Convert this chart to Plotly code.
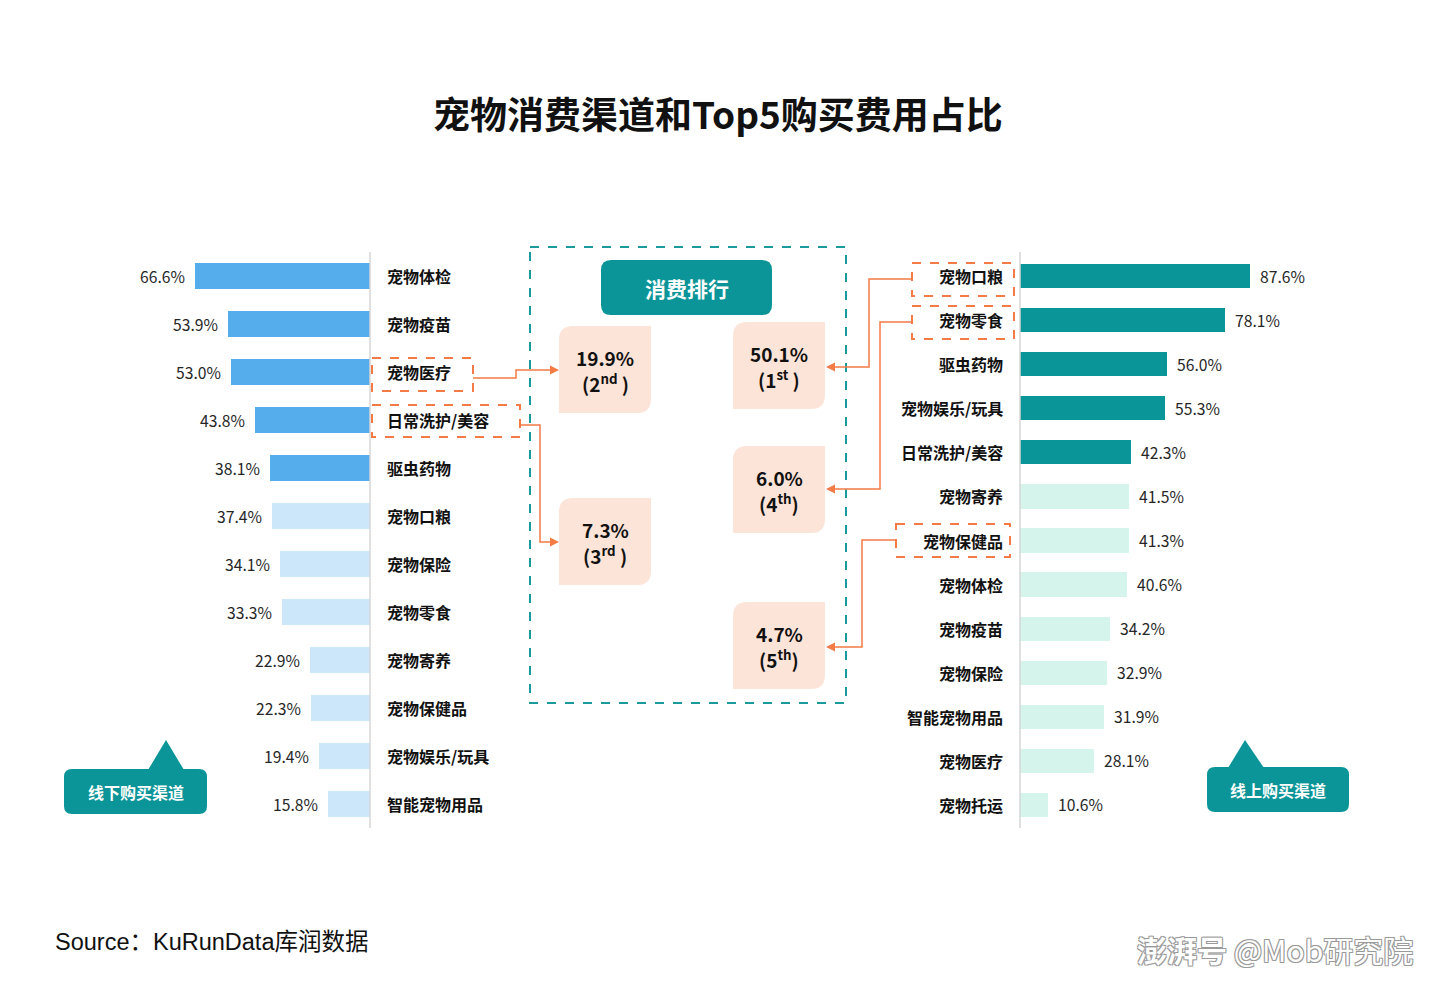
import plotly.graph_objects as go

# ---------------- data ----------------
offline_cats = ['宠物体检', '宠物疫苗', '宠物医疗', '日常洗护/美容', '驱虫药物', '宠物口粮',
                '宠物保险', '宠物零食', '宠物寄养', '宠物保健品', '宠物娱乐/玩具', '智能宠物用品']
offline_vals = [66.6, 53.9, 53.0, 43.8, 38.1, 37.4, 34.1, 33.3, 22.9, 22.3, 19.4, 15.8]
offline_top = 5

online_cats = ['宠物口粮', '宠物零食', '驱虫药物', '宠物娱乐/玩具', '日常洗护/美容', '宠物寄养',
               '宠物保健品', '宠物体检', '宠物疫苗', '宠物保险', '智能宠物用品', '宠物医疗', '宠物托运']
online_vals = [87.6, 78.1, 56.0, 55.3, 42.3, 41.5, 41.3, 40.6, 34.2, 32.9, 31.9, 28.1, 10.6]
online_top = 5

rank_vals = ['19.9%', '50.1%', '7.3%', '6.0%', '4.7%']
rank_tags = ['2<sup>nd</sup> ', '1<sup>st</sup> ', '3<sup>rd</sup> ', '4<sup>th</sup>', '5<sup>th</sup>']

title_text = '宠物消费渠道和Top5购买费用占比'
source_text = 'Source：KuRunData库润数据'

# ---------------- styling ----------------
PAGE_W, PAGE_H = 1436, 983
OFF = 8                      # default body margin of the html page
W, H = PAGE_W - 2 * OFF, PAGE_H - 2 * OFF
FONT = 'Noto Sans CJK SC, Microsoft YaHei, sans-serif'
TEAL = '#0B9598'
ORANGE = '#F47A46'
PEACH = '#FDE4D8'
BLUE_D, BLUE_L = '#55ADEB', '#CDE7FA'
TEAL_D, TEAL_L = '#0A9598', '#D5F5EC'
PXS = 2.63  # pixels per percent


def X(px):
    return (px - OFF) / W


def Y(py):
    return 1 - (py - OFF) / H


fig = go.Figure()

fig.add_trace(go.Bar(
    x=offline_vals, y=offline_cats, orientation='h', xaxis='x', yaxis='y',
    marker=dict(color=[BLUE_D if i < offline_top else BLUE_L for i in range(len(offline_vals))], line_width=0),
    width=0.55, hoverinfo='x+y', showlegend=False))

fig.add_trace(go.Bar(
    x=online_vals, y=online_cats, orientation='h', xaxis='x2', yaxis='y2',
    marker=dict(color=[TEAL_D if i < online_top else TEAL_L for i in range(len(online_vals))], line_width=0),
    width=0.55, hoverinfo='x+y', showlegend=False))

ann = []
shapes = []

# value + category labels
for c, v in zip(offline_cats, offline_vals):
    ann.append(dict(x=v, y=c, xref='x', yref='y', text=f'{v:.1f}%', showarrow=False,
                    xanchor='right', yanchor='middle', xshift=-8, font=dict(size=15.7, color='#262626')))
    ann.append(dict(x=0, y=c, xref='x', yref='y', text=f'<b>{c}</b>', showarrow=False,
                    xanchor='left', yanchor='middle', xshift=15, font=dict(size=16, color='#111')))
for c, v in zip(online_cats, online_vals):
    ann.append(dict(x=v, y=c, xref='x2', yref='y2', text=f'{v:.1f}%', showarrow=False,
                    xanchor='left', yanchor='middle', xshift=8, font=dict(size=15.7, color='#262626')))
    ann.append(dict(x=0, y=c, xref='x2', yref='y2', text=f'<b>{c}</b>', showarrow=False,
                    xanchor='right', yanchor='middle', xshift=-15, font=dict(size=16, color='#111')))

# axis baselines
shapes.append(dict(type='line', xref='paper', yref='paper', x0=X(370), x1=X(370), y0=Y(252), y1=Y(828),
                   line=dict(color='#D6D6D6', width=1.5)))
shapes.append(dict(type='line', xref='paper', yref='paper', x0=X(1020), x1=X(1020), y0=Y(252), y1=Y(828),
                   line=dict(color='#D6D6D6', width=1.5)))


def rpath(x0, y0, x1, y1, r, tl=True, tr=True, br=True, bl=True):
    p = []
    p.append(f'M {X(x0 + (r if tl else 0))},{Y(y0)}')
    p.append(f'L {X(x1 - (r if tr else 0))},{Y(y0)}')
    if tr:
        p.append(f'Q {X(x1)},{Y(y0)} {X(x1)},{Y(y0 + r)}')
    p.append(f'L {X(x1)},{Y(y1 - (r if br else 0))}')
    if br:
        p.append(f'Q {X(x1)},{Y(y1)} {X(x1 - r)},{Y(y1)}')
    p.append(f'L {X(x0 + (r if bl else 0))},{Y(y1)}')
    if bl:
        p.append(f'Q {X(x0)},{Y(y1)} {X(x0)},{Y(y1 - r)}')
    p.append(f'L {X(x0)},{Y(y0 + (r if tl else 0))}')
    if tl:
        p.append(f'Q {X(x0)},{Y(y0)} {X(x0 + r)},{Y(y0)}')
    p.append('Z')
    return ' '.join(p)


def label(px, py, text, size, color, xanchor='center', **kw):
    ann.append(dict(x=X(px), y=Y(py), xref='paper', yref='paper', text=text, showarrow=False,
                    xanchor=xanchor, yanchor='middle', font=dict(size=size, color=color, **kw)))


# central dashed frame
shapes.append(dict(type='rect', xref='paper', yref='paper', x0=X(530), x1=X(846), y0=Y(247), y1=Y(703),
                   line=dict(color='#1A9A9C', width=2, dash='dash'), fillcolor='rgba(0,0,0,0)'))
# header box
shapes.append(dict(type='path', xref='paper', yref='paper', path=rpath(601, 260, 772, 315, 10),
                   fillcolor=TEAL, line=dict(width=0)))
label(686.5, 288, '<b>消费排行</b>', 21, 'white')

# ranking boxes
rank_boxes = [(559, 326, 651, 413), (733, 322, 825, 409), (559, 498, 651, 585),
              (733, 446, 825, 533), (733, 602, 825, 689)]
for (x0, y0, x1, y1), v, t in zip(rank_boxes, rank_vals, rank_tags):
    shapes.append(dict(type='path', xref='paper', yref='paper',
                       path=rpath(x0, y0, x1, y1, 14, tl=True, tr=False, br=True, bl=False),
                       fillcolor=PEACH, line=dict(width=0)))
    cx, cy = (x0 + x1) / 2, (y0 + y1) / 2
    label(cx, cy - 12, f'<b>{v}</b>', 19, '#111')
    label(cx, cy + 13, f'<b>({t})</b>', 19, '#111')

# dashed highlight boxes around labels
hl_boxes = [(372, 358, 473, 391), (372, 405, 520, 437),
            (912, 263, 1014, 296), (912, 306, 1014, 339), (896, 524, 1010, 557)]
for x0, y0, x1, y1 in hl_boxes:
    shapes.append(dict(type='rect', xref='paper', yref='paper', x0=X(x0), x1=X(x1), y0=Y(y0), y1=Y(y1),
                       line=dict(color=ORANGE, width=2, dash='dash'), fillcolor='rgba(0,0,0,0)'))

# connector lines with arrowheads
connectors = [
    [(473, 378), (516, 378), (516, 370), (552, 370)],
    [(520, 425), (540, 425), (540, 542), (552, 542)],
    [(912, 279), (869, 279), (869, 367), (833, 367)],
    [(912, 322), (880, 322), (880, 489), (833, 489)],
    [(896, 540), (862, 540), (862, 647), (833, 647)],
]
heads = [(559, 370, 1), (559, 542, 1), (826, 367, -1), (826, 489, -1), (826, 647, -1)]
for pts in connectors:
    path = 'M ' + ' L '.join(f'{X(a)},{Y(b)}' for a, b in pts)
    shapes.append(dict(type='path', xref='paper', yref='paper', path=path,
                       line=dict(color=ORANGE, width=1.5)))
for hx, hy, d in heads:
    bx = hx - d * 9
    shapes.append(dict(type='path', xref='paper', yref='paper',
                       path=f'M {X(bx)},{Y(hy - 4.5)} L {X(hx)},{Y(hy)} L {X(bx)},{Y(hy + 4.5)} Z',
                       fillcolor=ORANGE, line=dict(width=0)))


# callout bubbles
def bubble(x0, y0, x1, y1, apx, apy, bx0, bx1, text):
    shapes.append(dict(type='path', xref='paper', yref='paper', path=rpath(x0, y0, x1, y1, 8),
                       fillcolor=TEAL, line=dict(width=0)))
    shapes.append(dict(type='path', xref='paper', yref='paper',
                       path=f'M {X(bx0)},{Y(y0 + 1)} L {X(apx)},{Y(apy)} L {X(bx1)},{Y(y0 + 1)} Z',
                       fillcolor=TEAL, line=dict(width=0)))
    label((x0 + x1) / 2, (y0 + y1) / 2, f'<b>{text}</b>', 16, 'white')


bubble(64, 769, 207, 814, 166, 740, 148, 184, '线下购买渠道')
bubble(1207, 767, 1349, 812, 1245, 740, 1228, 1264, '线上购买渠道')

# title / source / watermark
label(718, 113, f'<b>{title_text}</b>', 37, '#111')
label(53, 942, source_text, 23.5, '#111', xanchor='left', family='Liberation Sans, Noto Sans CJK SC')
label(1415, 949, '<b>澎湃号</b> @Mob研究院', 30, 'white', xanchor='right',
      shadow='1px 1px 0 #9a9a9a, -1px -1px 0 #9a9a9a, 1px -1px 0 #9a9a9a, -1px 1px 0 #9a9a9a')

fig.update_layout(
    width=W, height=H, margin=dict(l=0, r=0, t=0, b=0),
    paper_bgcolor='white', plot_bgcolor='white',
    font=dict(family=FONT),
    bargap=0,
    xaxis=dict(domain=[X(OFF), X(370)], range=[(370 - OFF) / PXS, 0], visible=False),
    yaxis=dict(domain=[Y(828), Y(252)], range=[len(offline_cats) - 0.5, -0.5], visible=False,
               type='category', categoryorder='array', categoryarray=offline_cats),
    xaxis2=dict(domain=[X(1020), 1], range=[0, (W + OFF - 1020) / PXS], visible=False, anchor='y2'),
    yaxis2=dict(domain=[Y(827), Y(254)], range=[len(online_cats) - 0.5, -0.5], visible=False, anchor='x2',
                type='category', categoryorder='array', categoryarray=online_cats),
    annotations=ann, shapes=shapes,
)

fig.write_html('out.html')
